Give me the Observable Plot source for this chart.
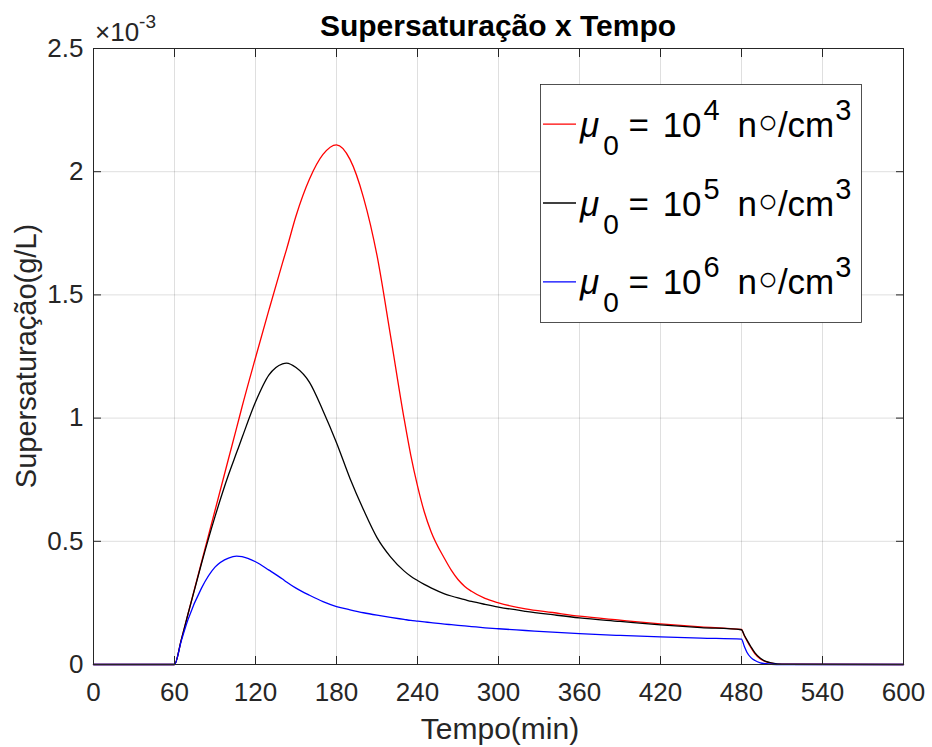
<!DOCTYPE html>
<html><head><meta charset="utf-8">
<script src="https://cdn.jsdelivr.net/npm/d3@7"></script>
<script src="https://cdn.jsdelivr.net/npm/@observablehq/plot@0.6"></script>
<style>
body{margin:0;background:#fff;}
#chart svg{display:block;}
</style>
</head><body><div id="chart"></div>
<script>
// Tempo (min)
const tempo = [0, 60, 65, 70, 80, 90, 100, 106, 110, 120, 130, 140, 143, 150, 160, 170, 180, 190, 200, 210, 220, 230, 235, 240, 245, 250, 260, 265, 270, 275, 280, 290, 300, 320, 340, 360, 390, 420, 450, 480, 482, 484, 487, 490, 494, 498, 502, 510, 600];
// Supersaturação (×10^-3 g/L)
const mu4 = [0, 0, 0.100, 0.205, 0.415, 0.625, 0.835, 0.960, 1.045, 1.245, 1.440, 1.630, 1.685, 1.820, 1.970, 2.070, 2.109, 2.050, 1.895, 1.660, 1.335, 1.000, 0.850, 0.725, 0.620, 0.540, 0.430, 0.383, 0.345, 0.317, 0.297, 0.268, 0.250, 0.226, 0.211, 0.196, 0.180, 0.165, 0.153, 0.142, 0.118, 0.097, 0.068, 0.043, 0.022, 0.012, 0.006, 0.001, 0];
const mu5 = [0, 0, 0.100, 0.205, 0.410, 0.600, 0.770, 0.860, 0.920, 1.065, 1.175, 1.220, 1.223, 1.205, 1.145, 1.030, 0.900, 0.755, 0.628, 0.515, 0.437, 0.380, 0.358, 0.341, 0.325, 0.311, 0.287, 0.278, 0.270, 0.263, 0.256, 0.244, 0.233, 0.216, 0.202, 0.189, 0.175, 0.161, 0.150, 0.141, 0.120, 0.100, 0.072, 0.047, 0.025, 0.013, 0.007, 0.001, 0];
const mu6 = [0, 0, 0.095, 0.182, 0.310, 0.395, 0.432, 0.440, 0.438, 0.417, 0.383, 0.347, 0.335, 0.310, 0.281, 0.255, 0.235, 0.222, 0.210, 0.200, 0.191, 0.183, 0.179, 0.176, 0.173, 0.170, 0.164, 0.1615, 0.159, 0.1565, 0.154, 0.149, 0.145, 0.138, 0.131, 0.125, 0.118, 0.112, 0.107, 0.103, 0.075, 0.050, 0.028, 0.016, 0.007, 0.003, 0.001, 0, 0];

const seriesNames = ["μ0 = 10^4 n∘/cm^3", "μ0 = 10^5 n∘/cm^3", "μ0 = 10^6 n∘/cm^3"];
const seriesExp = ["4", "5", "6"];
const seriesColors = ["#ff0000", "#000000", "#0000ff"];
const xTicks = [0, 60, 120, 180, 240, 300, 360, 420, 480, 540, 600];
const yTicks = [0, 0.5, 1, 1.5, 2, 2.5];
const yTickLabels = ["0", "0.5", "1", "1.5", "2", "2.5"];

const rows = [];
[mu4, mu5, mu6].forEach((vals, i) => tempo.forEach((t, j) => rows.push({t, v: vals[j], s: seriesNames[i]})));

const axisColor = "#262626";
const font = "'Liberation Sans', Arial, Helvetica, sans-serif";
const tk = 8;

const plot = Plot.plot({
  width: 932,
  height: 747,
  marginLeft: 93,
  marginRight: 29,
  marginTop: 48,
  marginBottom: 83,
  style: {fontFamily: font, fontSize: "26px", color: axisColor, background: "#fff"},
  x: {domain: [0, 600]},
  y: {domain: [0, 2.5]},
  color: {domain: seriesNames, range: seriesColors},
  marks: [
    Plot.gridX(xTicks, {stroke: axisColor, strokeOpacity: 0.15, strokeWidth: 1}),
    Plot.gridY(yTicks, {stroke: axisColor, strokeOpacity: 0.15, strokeWidth: 1}),
    Plot.line(rows, {x: "t", y: "v", z: "s", stroke: "s", strokeWidth: 1.3, curve: "monotone-x"}),
    Plot.frame({stroke: axisColor, strokeWidth: 1}),
    Plot.axisX(xTicks, {anchor: "bottom", tickSize: 0, tickPadding: 18, label: null, fill: axisColor, fontSize: 26}),
    Plot.axisX(xTicks, {anchor: "bottom", tickSize: tk, dy: -tk, tickFormat: () => "", label: null, stroke: axisColor}),
    Plot.axisX(xTicks, {anchor: "top", tickSize: tk, dy: tk, tickFormat: () => "", label: null, stroke: axisColor}),
    Plot.axisY(yTicks, {anchor: "left", tickSize: 0, tickPadding: 10, label: null, fill: axisColor, fontSize: 26, tickFormat: d => yTickLabels[yTicks.indexOf(d)]}),
    Plot.axisY(yTicks, {anchor: "left", tickSize: tk, dx: tk, tickFormat: () => "", label: null, stroke: axisColor}),
    Plot.axisY(yTicks, {anchor: "right", tickSize: tk, dx: -tk, tickFormat: () => "", label: null, stroke: axisColor})
  ]
});
document.getElementById("chart").appendChild(plot);

const svg = d3.select(plot);
// Title
svg.append("text").attr("x", 498).attr("y", 36).attr("text-anchor", "middle")
  .attr("font-family", font).attr("font-weight", "bold").attr("font-size", 30).attr("fill", "#000")
  .text("Supersaturação x Tempo");
// Axis labels
svg.append("text").attr("transform", "translate(36,356) rotate(-90)").attr("text-anchor", "middle")
  .attr("font-family", font).attr("font-size", 29).attr("fill", axisColor)
  .text("Supersaturação(g/L)");
svg.append("text").attr("x", 500).attr("y", 739).attr("text-anchor", "middle")
  .attr("font-family", font).attr("font-size", 30).attr("fill", axisColor)
  .text("Tempo(min)");
// Exponent
const ex = svg.append("text").attr("x", 95).attr("y", 41).attr("text-anchor", "start")
  .attr("font-family", font).attr("font-size", 26).attr("fill", axisColor);
ex.append("tspan").text("×10");
ex.append("tspan").attr("font-size", 19).attr("dy", -13).text("-3");

// Legend
const lg = svg.append("g").attr("font-family", font).attr("text-anchor", "start");
lg.append("rect").attr("x", 540.5).attr("y", 84.5).attr("width", 321).attr("height", 238)
  .attr("fill", "#fff").attr("stroke", axisColor).attr("stroke-width", 0.8);
seriesNames.forEach((name, i) => {
  const base = 136.7 + i * 78.8;
  lg.append("line").attr("x1", 543).attr("x2", 576).attr("y1", base - 12.5).attr("y2", base - 12.5)
    .attr("stroke", seriesColors[i]).attr("stroke-width", 1.3);
  const t = lg.append("text").attr("x", 580).attr("y", base).attr("text-anchor", "start")
    .attr("font-size", 35).attr("fill", "#000").style("white-space", "pre");
  t.append("tspan").attr("font-style", "italic").text("μ");
  t.append("tspan").attr("font-size", 28).attr("dx", 4).attr("dy", 18).text("0");
  t.append("tspan").attr("dy", -18).text(" = ");
  t.append("tspan").attr("dx", 4).text("10");
  t.append("tspan").attr("font-size", 29).attr("dx", 2).attr("dy", -17).text(seriesExp[i]);
  t.append("tspan").attr("dx", 8).attr("dy", 17).text(" n");
  t.append("tspan").attr("font-size", 33).attr("dx", 1).attr("dy", -4).text("○");
  t.append("tspan").attr("dy", 4).text("/cm");
  t.append("tspan").attr("font-size", 29).attr("dx", 1).attr("dy", -17).text("3");
});
</script>
</body></html>
